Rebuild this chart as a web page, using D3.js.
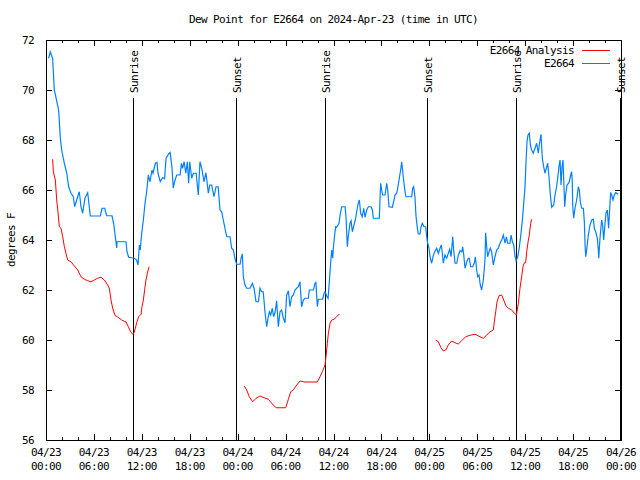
<!DOCTYPE html>
<html>
<head>
<meta charset="utf-8">
<script src="https://cdn.jsdelivr.net/npm/d3@7"></script>
<style>
  body { margin: 0; background: #fff; }
  svg text { font-family: "DejaVu Sans Mono", "Liberation Mono", monospace; font-size: 11px; letter-spacing: -0.6px; fill: #000; }
</style>
</head>
<body>
<svg id="chart" width="640" height="480"></svg>
<script>
// hours since 2024-04-23 00:00 UTC, dew point in degrees F
const stationObs = [
  [0.33,71.27],[0.54,71.53],[0.83,71.27],[1.04,70.0],[1.25,69.7],[1.58,69.2],[1.79,68.1],[1.96,67.6],
  [2.3,67.07],[2.6,66.67],[2.84,66.13],[3.13,65.87],[3.42,65.73],[3.59,65.33],[3.84,65.6],[4.17,65.93],
  [4.38,65.33],[4.59,65.07],[4.88,65.67],[5.22,65.89],[5.55,64.96],[6.8,64.96],[7.01,65.27],[7.35,65.27],
  [7.6,64.97],[8.26,64.97],[8.47,64.67],[8.68,64.13],[8.85,63.68],[8.9,63.93],[10.02,63.93],[10.14,63.53],
  [10.35,63.31],[11.06,63.27],[11.35,63.2],[11.52,63.0],[11.69,63.8],[11.8,63.6],[11.98,64.27],[12.19,64.8],
  [12.4,65.47],[12.6,65.93],[12.81,66.6],[13.02,66.33],[13.27,66.8],[13.4,66.67],[13.69,67.07],[13.9,67.1],
  [14.02,66.67],[14.31,66.33],[14.6,66.5],[14.85,66.45],[15.03,67.27],[15.36,67.44],[15.55,67.5],[15.78,66.87],
  [15.94,66.07],[16.1,66.33],[16.36,66.6],[16.8,66.6],[16.95,67.07],[17.1,66.87],[17.3,67.13],[17.5,66.67],
  [17.7,67.13],[17.86,66.27],[18.0,67.13],[18.24,66.47],[18.45,66.67],[18.8,66.67],[19.07,65.8],[19.28,67.13],
  [19.5,66.87],[19.78,66.33],[20.03,66.69],[20.33,65.87],[20.5,66.2],[20.75,66.2],[21.04,65.73],[21.29,66.13],
  [21.56,66.13],[21.79,65.2],[22.0,65.13],[22.2,64.8],[22.41,64.47],[22.63,64.13],[23.04,64.13],[23.25,63.67],
  [23.45,63.6],[23.7,63.2],[23.88,63.03],[24.3,63.03],[24.45,63.3],[24.58,63.44],[24.71,62.53],[24.92,62.2],
  [25.13,62.07],[25.55,62.07],[25.84,62.27],[26.05,62.07],[26.3,61.53],[26.6,61.53],[26.8,62.07],[27.0,61.93],
  [27.2,61.93],[27.42,61.13],[27.63,60.53],[27.8,60.87],[27.97,61.13],[28.13,61.0],[28.34,61.27],[28.5,60.93],
  [28.7,61.13],[28.88,61.57],[29.09,60.53],[29.3,61.13],[29.5,61.2],[29.72,60.87],[29.93,60.69],[30.14,61.8],
  [30.35,61.97],[30.55,61.33],[30.76,61.73],[30.97,61.8],[31.18,62.0],[31.39,62.07],[31.6,62.13],[31.8,62.33],
  [32.01,61.33],[32.22,61.6],[32.43,61.67],[32.85,61.67],[32.97,62.0],[33.5,62.0],[33.68,62.27],[33.8,62.3],
  [33.9,61.73],[33.98,61.33],[34.1,61.63],[34.65,61.63],[34.82,61.87],[34.94,61.93],[35.15,61.76],[35.32,61.67],
  [35.48,62.33],[35.65,63.13],[35.78,63.6],[35.9,63.27],[35.98,63.67],[36.1,64.07],[36.27,64.53],[36.4,64.51],
  [36.69,64.67],[36.83,65.0],[37.03,65.33],[37.45,65.33],[37.57,64.91],[37.73,63.73],[37.85,64.13],[38.07,64.67],
  [38.2,64.77],[38.36,64.33],[38.57,64.6],[38.78,64.87],[38.9,65.13],[39.1,65.47],[39.24,65.6],[39.4,65.07],
  [39.6,64.93],[39.78,65.27],[39.95,64.91],[40.16,65.2],[40.37,65.33],[40.7,65.33],[40.87,65.2],[40.99,64.87],
  [41.74,64.87],[41.82,65.6],[41.91,66.27],[42.03,66.0],[42.15,65.8],[42.45,65.8],[42.66,66.27],[42.79,66.0],
  [42.95,65.33],[43.37,65.31],[43.58,65.6],[43.7,65.8],[43.91,65.87],[44.04,66.07],[44.24,66.47],[44.41,66.8],
  [44.54,67.13],[44.75,66.47],[44.96,65.93],[45.08,65.73],[45.79,65.73],[45.91,66.07],[46.04,66.13],[46.2,65.73],
  [46.33,64.96],[46.5,64.47],[46.62,64.24],[46.83,64.24],[46.96,64.53],[47.13,64.67],[47.33,64.53],[47.54,64.53],
  [47.66,64.16],[47.79,63.87],[47.96,63.67],[48.08,63.33],[48.29,63.07],[48.46,63.33],[48.62,63.49],[48.92,63.67],
  [49.13,63.47],[49.34,63.67],[49.5,63.8],[49.63,63.47],[49.75,63.07],[49.96,63.4],[50.17,63.27],[50.38,63.47],
  [50.55,63.63],[50.72,63.33],[50.93,64.13],[51.05,63.6],[51.22,63.07],[51.43,63.07],[51.64,63.4],[51.85,63.57],
  [52.06,63.53],[52.18,63.73],[52.31,63.4],[52.47,62.87],[52.68,63.13],[52.89,63.27],[53.0,63.27],[53.18,62.93],
  [53.43,62.93],[53.64,63.09],[53.76,63.33],[53.93,62.8],[54.05,62.53],[54.22,62.6],[54.38,62.2],[54.55,62.0],
  [54.76,62.4],[54.97,63.2],[55.05,64.29],[55.18,63.73],[55.3,63.33],[55.47,63.53],[55.64,63.67],[55.8,63.53],
  [56.01,63.0],[56.22,63.33],[56.43,63.6],[56.64,63.67],[56.85,63.87],[57.06,64.0],[57.27,64.2],[57.48,63.87],
  [57.65,64.13],[57.81,63.87],[58.1,63.87],[58.23,64.2],[58.4,63.93],[58.57,63.8],[58.73,63.33],[58.86,63.17],
  [59.07,63.33],[59.28,63.73],[59.48,64.27],[59.65,64.8],[59.82,65.47],[59.98,66.13],[60.1,67.07],[60.23,67.93],
  [60.36,68.2],[60.52,68.27],[60.65,67.8],[60.81,67.6],[61.02,67.47],[61.23,67.67],[61.44,67.87],[61.65,67.47],
  [61.77,67.8],[61.98,68.23],[62.15,67.27],[62.32,66.93],[62.48,66.67],[62.7,66.93],[62.82,67.07],[63.0,66.47],
  [63.12,65.93],[63.24,65.53],[63.32,65.31],[63.57,65.4],[63.74,65.8],[63.95,66.16],[64.07,66.47],[64.24,66.96],
  [64.37,67.2],[64.49,66.2],[64.62,66.93],[64.74,67.2],[64.95,65.33],[65.07,65.8],[65.24,66.2],[65.49,66.29],
  [65.7,66.6],[65.82,66.73],[65.9,66.33],[65.95,65.4],[66.07,64.87],[66.24,65.27],[66.45,65.6],[66.66,66.13],
  [66.78,66.0],[66.91,65.53],[67.08,65.27],[67.29,65.27],[67.41,64.73],[67.5,63.8],[67.58,63.33],[67.7,63.6],
  [67.91,64.2],[68.12,64.6],[68.33,64.8],[68.54,64.83],[68.66,64.47],[68.83,64.33],[69.04,64.07],[69.16,63.6],
  [69.21,63.27],[69.37,64.07],[69.58,64.8],[69.7,64.6],[69.83,64.0],[70.0,64.67],[70.12,65.07],[70.29,65.2],
  [70.45,64.47],[70.58,65.2],[70.7,65.9],[70.83,65.8],[71.0,65.6],[71.16,65.8],[71.33,65.9],[71.66,65.83]
];

const analysisDay1 = [
  [0.83,67.23],[0.92,66.73],[1.17,66.4],[1.34,65.6],[1.5,65.13],[1.67,64.53],[1.88,64.47],[2.09,64.13],
  [2.3,63.73],[2.5,63.47],[2.71,63.2],[3.13,63.13],[3.55,62.96],[3.97,62.8],[4.38,62.53],[4.8,62.43],
  [5.22,62.37],[5.63,62.33],[6.05,62.4],[6.47,62.47],[6.89,62.51],[7.3,62.4],[7.72,62.2],[7.93,62.07],
  [8.14,61.6],[8.35,61.27],[8.64,60.98],[8.93,60.93],[9.48,60.8],[10.02,60.72],[10.31,60.53],[10.6,60.33],
  [10.85,60.23],[11.02,60.29],[11.19,60.47],[11.35,60.69],[11.6,60.93],[11.9,61.03],[12.02,61.33],[12.19,61.6],
  [12.36,62.03],[12.52,62.4],[12.69,62.67],[12.9,62.93]
];
const analysisDay2 = [
  [24.83,58.16],[25.13,58.0],[25.46,57.73],[25.88,57.53],[26.3,57.67],[26.8,57.76],[27.3,57.69],[27.84,57.63],
  [28.26,57.47],[28.8,57.29],[29.3,57.29],[30.01,57.29],[30.35,57.63],[30.64,57.93],[30.97,58.0],[31.39,58.2],
  [31.8,58.36],[32.43,58.32],[33.06,58.32],[33.98,58.32],[34.31,58.53],[34.65,58.77],[34.94,59.0],[35.06,59.33],
  [35.23,59.87],[35.36,60.27],[35.57,60.67],[35.78,60.8],[36.07,60.83],[36.4,60.93],[36.73,61.04]
];
const analysisDay3 = [
  [48.79,60.0],[49.13,59.93],[49.46,59.69],[49.76,59.56],[50.05,59.6],[50.38,59.8],[50.8,59.96],[51.22,59.89],
  [51.63,59.84],[52.05,59.97],[52.55,60.13],[53.1,60.19],[53.72,60.23],[54.14,60.16],[54.76,60.07],[55.18,60.2],
  [55.6,60.33],[56.01,60.4],[56.14,60.73],[56.31,61.13],[56.48,61.53],[56.72,61.77],[57.06,61.8],[57.31,61.6],
  [57.6,61.36],[57.9,61.27],[58.32,61.2],[58.65,61.07],[58.9,61.0],[59.15,61.47],[59.35,62.07],[59.56,62.53],
  [59.73,62.93],[59.9,63.09],[60.06,63.09],[60.19,63.53],[60.4,64.0],[60.52,64.2],[60.69,64.67],[60.82,64.83]
];

const sunEvents = [
  ["Sunrise", 10.93], ["Sunset", 23.85], ["Sunrise", 34.96],
  ["Sunset", 47.76], ["Sunrise", 58.9], ["Sunset", 71.88]
];
const yTicks = [56, 58, 60, 62, 64, 66, 68, 70, 72];
const seriesNames = ["E2664 Analysis", "E2664"];
const seriesColors = ["#ff0000", "#0080ff"];

const start = Date.UTC(2024, 3, 23);
const toDate = h => new Date(start + h * 3600e3);

const svg = d3.select("#chart");
const margin = { top: 40, right: 19, bottom: 40, left: 46 };
const width = 640 - margin.left - margin.right;
const height = 480 - margin.top - margin.bottom;

const x = d3.scaleUtc().domain([toDate(0), toDate(72)]).range([margin.left, margin.left + width]);
const y = d3.scaleLinear().domain([56, 72]).range([margin.top + height, margin.top]);

// title and axis label
svg.append("text")
  .attr("x", margin.left + width / 2).attr("y", 23)
  .attr("text-anchor", "middle")
  .text("Dew Point for E2664 on 2024-Apr-23 (time in UTC)");

svg.append("text")
  .attr("transform", `translate(15,${margin.top + height / 2}) rotate(-90)`)
  .attr("text-anchor", "middle")
  .text("degrees F");

// ticks: bottom + mirrored top
const majorTicks = d3.utcHour.every(6).range(toDate(0), toDate(72.01));
const minorTicks = d3.utcHour.every(2).range(toDate(0), toDate(72.01));

svg.append("g").attr("transform", `translate(0,${margin.top + height})`)
  .call(d3.axisBottom(x).tickValues(minorTicks).tickSize(-3).tickFormat(""))
  .call(g => g.select(".domain").remove());
svg.append("g").attr("transform", `translate(0,${margin.top + height})`)
  .call(d3.axisBottom(x).tickValues(majorTicks).tickSize(-6).tickFormat(""))
  .call(g => g.select(".domain").remove());
svg.append("g").attr("transform", `translate(0,${margin.top})`)
  .call(d3.axisTop(x).tickValues(minorTicks).tickSize(-3).tickFormat(""))
  .call(g => g.select(".domain").remove());
svg.append("g").attr("transform", `translate(0,${margin.top})`)
  .call(d3.axisTop(x).tickValues(majorTicks).tickSize(-6).tickFormat(""))
  .call(g => g.select(".domain").remove());

// two-line x tick labels
const fmtDay = d3.utcFormat("%m/%d"), fmtTime = d3.utcFormat("%H:%M");
const xLabels = svg.append("g").selectAll("text").data(majorTicks).join("text")
  .attr("x", d => x(d)).attr("y", margin.top + height + 16)
  .attr("text-anchor", "middle");
xLabels.append("tspan").attr("x", d => x(d)).text(d => fmtDay(d));
xLabels.append("tspan").attr("x", d => x(d)).attr("dy", 14).text(d => fmtTime(d));

svg.append("g").attr("transform", `translate(${margin.left},0)`)
  .call(d3.axisLeft(y).tickValues(yTicks).tickSize(-6).tickPadding(12).tickFormat(d3.format("d")))
  .call(g => g.select(".domain").remove())
  .call(g => g.selectAll("text").attr("font-size", null).attr("font-family", null));
svg.append("g").attr("transform", `translate(${margin.left + width},0)`)
  .call(d3.axisRight(y).tickValues(yTicks).tickSize(-6).tickFormat(""))
  .call(g => g.select(".domain").remove());

svg.selectAll(".tick line").attr("stroke", "#000").attr("shape-rendering", "crispEdges");

// sunrise / sunset markers
const sun = svg.append("g").selectAll("g").data(sunEvents).join("g");
sun.append("line")
  .attr("x1", d => x(toDate(d[1]))).attr("x2", d => x(toDate(d[1])))
  .attr("y1", y(56)).attr("y2", 98)
  .attr("stroke", "#000").attr("stroke-width", 1).attr("shape-rendering", "crispEdges");
sun.append("text")
  .attr("transform", d => `translate(${x(toDate(d[1])) + 5},93) rotate(-90)`)
  .attr("text-anchor", "start")
  .text(d => d[0]);

// series lines
const line = d3.line().x(d => x(toDate(d[0]))).y(d => y(d[1]));
[analysisDay1, analysisDay2, analysisDay3].forEach(seg => {
  svg.append("path").datum(seg).attr("d", line)
    .attr("fill", "none").attr("stroke", seriesColors[0]).attr("stroke-width", 1);
});
svg.append("path").datum(stationObs).attr("d", line)
  .attr("fill", "none").attr("stroke", seriesColors[1]).attr("stroke-width", 1.2);

// legend
const legend = svg.append("g").selectAll("g").data(seriesNames).join("g")
  .attr("transform", (d, i) => `translate(0,${50 + i * 13})`);
legend.append("text").attr("x", 574).attr("y", 4).attr("text-anchor", "end").text(d => d);
legend.append("line").attr("x1", 582).attr("x2", 610).attr("y1", 0).attr("y2", 0)
  .attr("stroke", (d, i) => seriesColors[i]).attr("stroke-width", 1).attr("shape-rendering", "crispEdges");

// frame
svg.append("rect")
  .attr("x", margin.left).attr("y", margin.top).attr("width", width).attr("height", height)
  .attr("fill", "none").attr("stroke", "#000").attr("shape-rendering", "crispEdges");
</script>
</body>
</html>
